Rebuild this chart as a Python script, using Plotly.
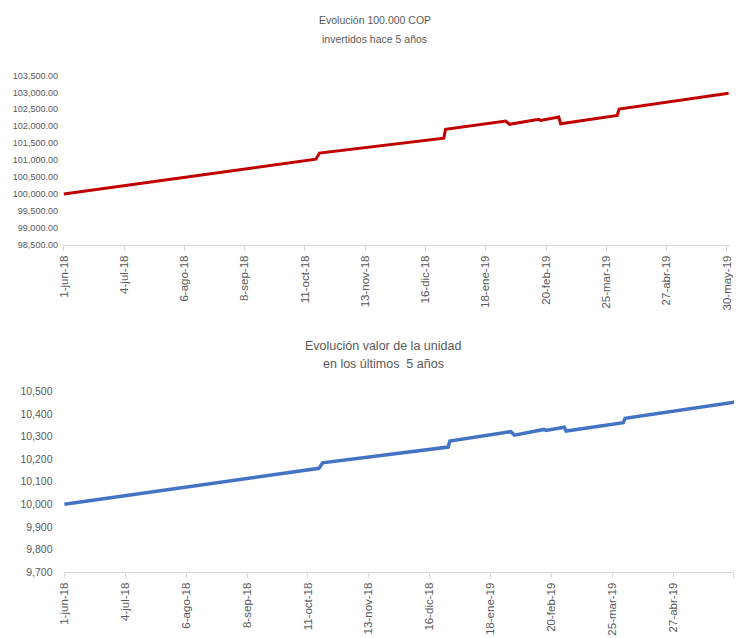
import plotly.graph_objects as go

# ---- data ----
dates_top = ["2018-06-01", "2018-10-17", "2018-10-19", "2018-12-26", "2018-12-27",
             "2019-01-29", "2019-01-31", "2019-02-16", "2019-02-17", "2019-02-27",
             "2019-02-28", "2019-03-31", "2019-04-01", "2019-05-31"]
values_top = [100000, 101030, 101210, 101649, 101912,
              102155, 102058, 102205, 102175, 102272,
              102076, 102322, 102510, 102972]

dates_bottom = ["2018-06-01", "2018-10-17", "2018-10-19", "2018-12-26", "2018-12-27",
                "2019-01-29", "2019-01-31", "2019-02-16", "2019-02-17", "2019-02-27",
                "2019-02-28", "2019-03-31", "2019-04-01", "2019-05-31"]
values_bottom = [10000, 10159, 10183, 10253, 10280,
                 10321, 10306, 10331, 10327, 10341,
                 10324, 10361, 10380, 10453]

tick_dates = ["2018-06-01", "2018-07-04", "2018-08-06", "2018-09-08", "2018-10-11",
              "2018-11-13", "2018-12-16", "2019-01-18", "2019-02-20", "2019-03-25",
              "2019-04-27", "2019-05-30"]
tick_labels = ["1-jun-18", "4-jul-18", "6-ago-18", "8-sep-18", "11-oct-18",
               "13-nov-18", "16-dic-18", "18-ene-19", "20-feb-19", "25-mar-19",
               "27-abr-19", "30-may-19"]

title_top = ["Evolución 100.000 COP", "invertidos hace 5 años"]
title_bottom = ["Evolución valor de la unidad", "en los últimos  5 años"]

# ---- figure ----
W, H = 736, 638
GREY = "#595959"
AXIS = "#d9d9d9"
NARROW = "Liberation Sans Narrow, Arial Narrow, Liberation Sans, Arial, sans-serif"
REG = "Liberation Sans, Arial, sans-serif"

# the captured page appears slightly shrunk about its centre; compensate
S = 0.987
def fx(px):
    return (W / 2 + (px - W / 2) / S) / W

def fy(px):
    return 1 - (H / 2 + (px - H / 2) / S) / H

fig = go.Figure()
fig.add_trace(go.Scatter(x=dates_top, y=values_top, mode="lines",
                         line=dict(color="#C00000", width=3),
                         xaxis="x", yaxis="y", hoverinfo="skip"))
fig.add_trace(go.Scatter(x=dates_bottom, y=values_bottom, mode="lines",
                         line=dict(color="#4472C4", width=3.5),
                         xaxis="x2", yaxis="y2", hoverinfo="skip"))

xcommon = dict(type="date",
               tickmode="array", tickvals=tick_dates, ticktext=tick_labels,
               tickangle=-90, showgrid=False, zeroline=False,
               showline=True, linecolor=AXIS, linewidth=1,
               ticks="outside", ticklen=5, tickcolor=AXIS,
               tickfont=dict(family=REG, size=11.5, color=GREY))

fig.update_layout(
    width=W, height=H,
    margin=dict(l=0, r=0, t=0, b=0),
    paper_bgcolor="white", plot_bgcolor="white",
    showlegend=False,
    xaxis=dict(domain=[fx(62.5), fx(727.7)], anchor="y",
               range=["2018-05-31 12:00", "2019-06-01"], **xcommon),
    yaxis=dict(domain=[fy(244.5), fy(74)], anchor="x", range=[98500, 103500],
               dtick=500, tick0=98500, tickformat=",.2f",
               showgrid=False, zeroline=False, showline=False, ticks="",
               ticklabelstandoff=4,
               tickfont=dict(family=NARROW, size=9, color=GREY)),
    xaxis2=dict(domain=[fx(63.1), 1.0], anchor="y2",
                range=["2018-05-31 12:00", "2019-05-30 01:00"], **xcommon),
    yaxis2=dict(domain=[fy(573.5), fy(391.7)], anchor="x2", range=[9700, 10500],
                dtick=100, tick0=9700, tickformat=",d",
                showgrid=False, zeroline=False, showline=False, ticks="",
                ticklabelstandoff=10,
                tickfont=dict(family=REG, size=10.5, color=GREY)),
)

anns = []
for txt, xp, ypx, fam, sz in [
    (title_top[0], 373, 18, NARROW, 10.5),
    (title_top[1], 373, 37, NARROW, 10.5),
    (title_bottom[0], 381, 346, REG, 12.5),
    (title_bottom[1], 382, 364, REG, 12.5),
]:
    anns.append(dict(text=txt, x=fx(xp), y=fy(ypx), xref="paper", yref="paper",
                     xanchor="center", yanchor="middle", showarrow=False,
                     font=dict(family=fam, size=sz, color=GREY)))
fig.update_layout(annotations=anns)

fig.write_html("out.html",
               config={"displayModeBar": False, "staticPlot": True},
               post_script=(
                   "document.documentElement.style.margin='0';"
                   "document.documentElement.style.overflow='hidden';"
                   "document.body.style.margin='0';"
                   "document.body.style.padding='0';"
                   "document.body.style.overflow='hidden';"
                   "var gd=document.getElementsByClassName('plotly-graph-div')[0];"
                   "gd.style.position='fixed';gd.style.left='0px';gd.style.top='0px';"
               ))
